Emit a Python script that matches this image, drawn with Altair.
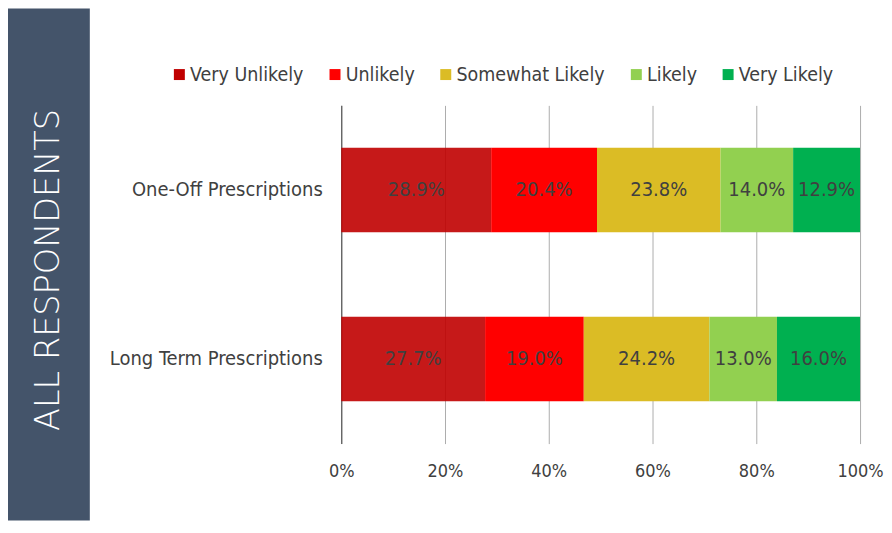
import altair as alt
import pandas as pd

groups = ["One-Off Prescriptions", "Long Term Prescriptions"]
categories = ["Very Unlikely", "Unlikely", "Somewhat Likely", "Likely", "Very Likely"]
one_off = [28.9, 20.4, 23.8, 14.0, 12.9]
long_term = [27.7, 19.0, 24.2, 13.0, 16.0]
colors = ["#C00000", "#FF0000", "#DBBC25", "#92D050", "#00B050"]
x_ticks = [0, 0.2, 0.4, 0.6, 0.8, 1.0]
panel_title = "ALL RESPONDENTS"

rows = []
for g, vals in zip(groups, [one_off, long_term]):
    for i, (c, v) in enumerate(zip(categories, vals)):
        rows.append({"group": g, "category": c, "order": i, "value": v})
df = pd.DataFrame(rows)

FONT = "DejaVu Sans Condensed"
TXT = "#404040"

base = alt.Chart(df).transform_stack(
    stack="value", as_=["x0", "x1"], groupby=["group"],
    sort=[alt.SortField("order")], offset="normalize"
).transform_calculate(
    mid="(datum.x0 + datum.x1) / 2",
    label="format(datum.value, '.1f') + '%'"
)

y_enc = alt.Y(
    "group:N", sort=groups,
    scale=alt.Scale(paddingInner=0.5, paddingOuter=0.25),
    axis=alt.Axis(title=None, ticks=False, labelPadding=19, labelFontSize=20,
                  labelLimit=400, labelColor=TXT, labelFont=FONT,
                  domainColor="#595959", domainWidth=1.2, grid=False),
)
x_enc = alt.X(
    "x0:Q", scale=alt.Scale(domain=[0, 1]),
    axis=alt.Axis(title=None, values=x_ticks, format="%", domain=False, ticks=False,
                  grid=True, gridColor="#ADADAD", labelPadding=19, labelFontSize=18,
                  labelFlush=False, labelColor=TXT, labelFont=FONT),
)

bars = base.mark_bar().encode(
    x=x_enc, x2="x1:Q", y=y_enc,
    color=alt.Color(
        "category:N", sort=categories,
        scale=alt.Scale(domain=categories, range=colors),
        legend=alt.Legend(title=None, orient="none", legendX=-172, legendY=-41,
                          direction="horizontal", symbolType="square", symbolSize=121,
                          symbolStrokeWidth=0, labelFontSize=19.5, labelColor=TXT,
                          labelFont=FONT, columnPadding=21, labelOffset=1, padding=0),
    ),
    opacity=alt.condition(alt.datum.category == "Very Unlikely", alt.value(0.9), alt.value(1.0)),
)

labels = base.mark_text(fontSize=20, color=TXT, font=FONT, align="center", baseline="middle").encode(
    x="mid:Q", y=alt.Y("group:N", sort=groups), text="label:N"
)

panel_df = pd.DataFrame({"t": [panel_title]})
panel = alt.Chart(panel_df).mark_rect(color="#44546A").encode(
    x=alt.value(-334), x2=alt.value(-252), y=alt.value(-97), y2=alt.value(416)
)
panel_text = alt.Chart(panel_df).mark_text(
    angle=270, font="DejaVu Sans", fontSize=33.6, fontWeight=200, color="white",
    align="center", baseline="middle"
).encode(x=alt.value(-293), y=alt.value(165), text="t:N")

chart = alt.layer(panel, bars, labels, panel_text).properties(
    width=520, height=339, padding=0
).configure_view(strokeWidth=0)

chart.save("out.html", embed_options={"renderer": "svg", "actions": False})
